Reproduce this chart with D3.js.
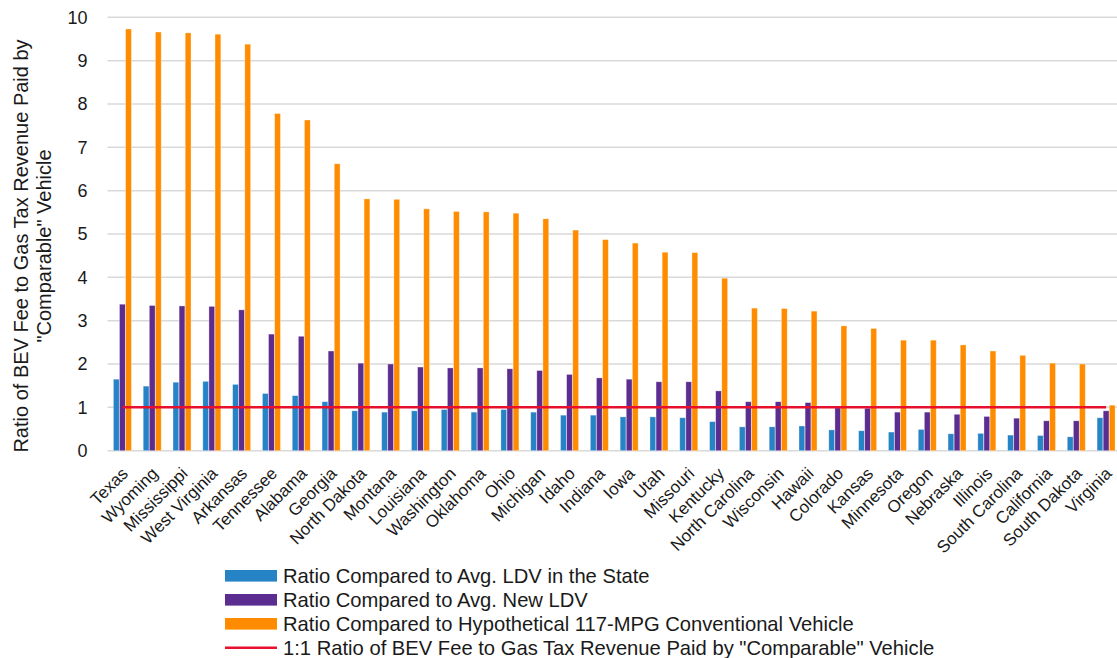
<!DOCTYPE html>
<html>
<head>
<meta charset="utf-8">
<script src="https://cdn.jsdelivr.net/npm/d3@7"></script>
<style>
  html, body { margin: 0; padding: 0; background: #ffffff; }
  svg { display: block; }
  text { font-family: "Liberation Sans", Arial, sans-serif; fill: #1a1a1a; }
</style>
</head>
<body>
<script>
// States, ordered by the hypothetical 117-MPG ratio
const states = ["Texas", "Wyoming", "Mississippi", "West Virginia", "Arkansas", "Tennessee",
  "Alabama", "Georgia", "North Dakota", "Montana", "Louisiana", "Washington", "Oklahoma",
  "Ohio", "Michigan", "Idaho", "Indiana", "Iowa", "Utah", "Missouri", "Kentucky",
  "North Carolina", "Wisconsin", "Hawaii", "Colorado", "Kansas", "Minnesota", "Oregon",
  "Nebraska", "Illinois", "South Carolina", "California", "South Dakota", "Virginia"];

// Ratio of BEV fee to gas tax paid by the average light-duty vehicle in the state
const avgLdvRatio = [1.65, 1.49, 1.58, 1.60, 1.53, 1.32, 1.27, 1.13, 0.92, 0.89, 0.92, 0.95,
  0.89, 0.95, 0.89, 0.82, 0.82, 0.78, 0.78, 0.76, 0.67, 0.55, 0.55, 0.57, 0.48, 0.46, 0.43,
  0.49, 0.39, 0.40, 0.36, 0.35, 0.32, 0.76];

// Ratio against the average new light-duty vehicle
const newLdvRatio = [3.38, 3.35, 3.34, 3.33, 3.25, 2.69, 2.64, 2.30, 2.02, 2.00, 1.93, 1.91,
  1.91, 1.89, 1.85, 1.76, 1.68, 1.65, 1.59, 1.59, 1.38, 1.13, 1.13, 1.11, 0.99, 0.98, 0.89,
  0.89, 0.84, 0.79, 0.75, 0.69, 0.69, 0.92];

// Ratio against a hypothetical 117-MPG conventional vehicle
const mpg117Ratio = [9.73, 9.66, 9.64, 9.61, 9.38, 7.78, 7.63, 6.62, 5.81, 5.80, 5.58, 5.52,
  5.51, 5.48, 5.35, 5.09, 4.87, 4.79, 4.58, 4.57, 3.98, 3.29, 3.28, 3.22, 2.88, 2.82, 2.55,
  2.55, 2.44, 2.30, 2.20, 2.02, 2.00, 1.05];

// Break-even reference level
const parityRatio = 1;

const yTicks = [0, 1, 2, 3, 4, 5, 6, 7, 8, 9, 10];

const seriesNames = [
  "Ratio Compared to Avg. LDV in the State",
  "Ratio Compared to Avg. New LDV",
  "Ratio Compared to Hypothetical 117-MPG Conventional Vehicle"
];
const lineName = "1:1 Ratio of BEV Fee to Gas Tax Revenue Paid by \"Comparable\" Vehicle";

const seriesValues = [avgLdvRatio, newLdvRatio, mpg117Ratio];
const seriesColors = ["#2683C6", "#5C2D91", "#FF8C00"];
const lineColor = "#E8112D";

const W = 1117, H = 658;
const plot = { left: 107.5, right: 1121, top: 17.3, bottom: 450.7 };

const svg = d3.select("body").append("svg")
  .attr("width", W).attr("height", H);

const x = d3.scaleBand().domain(states).range([plot.left, plot.right]).padding(0);
const xs = d3.scaleBand().domain(d3.range(seriesValues.length))
  .range([5.9, 23.9]).paddingInner(0.05);
const y = d3.scaleLinear().domain([0, 10]).range([plot.bottom, plot.top]);

// Horizontal gridlines
svg.append("g").selectAll("line").data(yTicks).join("line")
  .attr("x1", plot.left).attr("x2", W)
  .attr("y1", d => y(d)).attr("y2", d => y(d))
  .attr("stroke", "#d9d9d9").attr("stroke-width", 1.5);

// Y axis tick labels
const yAxis = d3.axisLeft(y).tickValues(yTicks).tickSize(0).tickPadding(0)
  .tickFormat(d3.format("d"));
svg.append("g").attr("transform", "translate(87.5,0)").call(yAxis)
  .call(g => g.select(".domain").remove())
  .selectAll("text")
  .attr("font-size", 18).attr("fill", "#1a1a1a")
  .attr("font-family", "'Liberation Sans', Arial, sans-serif");

// Y axis title (two lines)
const yTitle = svg.append("text")
  .attr("transform", "translate(28,246) rotate(-90)")
  .attr("text-anchor", "middle").attr("font-size", 20);
yTitle.append("tspan").attr("x", 0).attr("dy", 0)
  .text("Ratio of BEV Fee to Gas Tax Revenue Paid by");
yTitle.append("tspan").attr("x", 0).attr("dy", 23)
  .text("\"Comparable\" Vehicle");

// Bars
const groups = svg.append("g").selectAll("g").data(states).join("g")
  .attr("transform", d => `translate(${x(d)},0)`);
groups.selectAll("rect")
  .data((d, i) => seriesValues.map((vals, s) => ({ s, v: vals[i] })))
  .join("rect")
  .attr("x", d => xs(d.s))
  .attr("width", xs.bandwidth())
  .attr("y", d => y(d.v))
  .attr("height", d => y(0) - y(d.v))
  .attr("fill", d => seriesColors[d.s])
  .attr("stroke", "#ffffff").attr("stroke-opacity", 0.45).attr("stroke-width", 0.7);

// 1:1 reference line
const line = d3.line().x(d => x(d) + x.bandwidth() / 2).y(() => y(parityRatio));
svg.append("path")
  .datum(states)
  .attr("d", line)
  .attr("fill", "none").attr("stroke", lineColor).attr("stroke-width", 2.5);

// X labels, rotated
const xAxis = d3.axisBottom(x).tickSize(0).tickPadding(0);
svg.append("g").call(xAxis)
  .call(g => g.select(".domain").remove())
  .selectAll(".tick text")
  .attr("font-size", 17).attr("fill", "#1a1a1a")
  .attr("font-family", "'Liberation Sans', Arial, sans-serif")
  .attr("text-anchor", "end")
  .attr("y", 0).attr("dy", "0.55em")
  .attr("transform", "translate(0,468) rotate(-45)");

// Legend
const legend = svg.append("g").attr("transform", "translate(225,0)");
const rowsY = [575.8, 599.8, 623.8, 647.8];
seriesNames.forEach((name, i) => {
  legend.append("rect")
    .attr("x", 0).attr("y", rowsY[i] - 5.8)
    .attr("width", 52).attr("height", 11.6)
    .attr("fill", seriesColors[i]);
  legend.append("text")
    .attr("x", 58).attr("y", rowsY[i]).attr("dy", "0.35em")
    .attr("font-size", 20.2).text(name);
});
legend.append("line")
  .attr("x1", 0).attr("x2", 52)
  .attr("y1", rowsY[3]).attr("y2", rowsY[3])
  .attr("stroke", lineColor).attr("stroke-width", 2.5);
legend.append("text")
  .attr("x", 58).attr("y", rowsY[3]).attr("dy", "0.35em")
  .attr("font-size", 20.2).text(lineName);
</script>
</body>
</html>
